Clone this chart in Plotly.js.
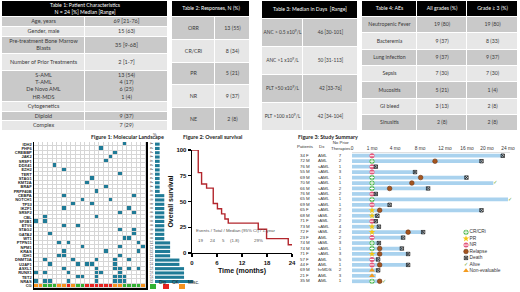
<!DOCTYPE html>
<html>
<head>
<meta charset="utf-8">
<script src="https://cdn.plot.ly/plotly-3.0.1.min.js"></script>
<style>
html,body{margin:0;padding:0;background:#ffffff;}
#chart{width:520px;height:292px;}
</style>
</head>
<body>
<div id="chart"></div>
<script>
// ================= DATA =================
// Table 1
const t1Header = ['Table 1: Patient Characteristics<br>N = 24 [%] Median [Range]'];
const t1Labels = ['Age, years', 'Gender, male', 'Pre-treatment Bone Marrow<br>Blasts', 'Number of Prior Treatments',
  'S-AML<br>T-AML<br>De Novo AML<br>HR-MDS', 'Cytogenetics', 'Diploid', 'Complex'];
const t1Values = ['69 [21-76]', '15 (63)', '35 [9-68]', '2 [1-7]', '13 (54)<br>4 (17)<br>6 (25)<br>1 (4)', '', '9 (37)', '7 (29)'];
// Table 2
const t2Header = ['Table 2: Responses, N (%)'];
const t2Labels = ['ORR', 'CR/CRi', 'PR', 'NR', 'NE'];
const t2Values = ['13 (55)', '8 (34)', '5 (21)', '9 (37)', '2 (8)'];
// Table 3
const t3Header = ['Table 3: Median in Days  [Range]'];
const t3Labels = ['ANC > 0.5 x10<sup>9</sup>/L', 'ANC >1 x10<sup>9</sup>/L', 'PLT >50 x10<sup>9</sup>/L', 'PLT >100 x10<sup>9</sup>/L'];
const t3Values = ['46 [30-101]', '50 [31-113]', '42 [33-76]', '42 [34-104]'];
// Table 4
const t4Header = ['Table 4: AEs', 'All grades (%)', 'Grade \u2265 3 (%)'];
const t4Events = ['Neutropenic Fever', 'Bacteremia', 'Lung infection', 'Sepsis', 'Mucositis', 'GI bleed', 'Sinusitis'];
const t4AllGrades = ['19 (80)', '9 (37)', '9 (37)', '7 (30)', '5 (21)', '3 (13)', '2 (8)'];
const t4Grade3 = ['19 (80)', '8 (33)', '9 (37)', '7 (30)', '1 (4)', '2 (8)', '2 (8)'];

// Figure 1: molecular landscape (patient columns 0..23)
const genes = ['IDH2', 'PHF6', 'CREBBP', 'JAK2', 'SRSF1', 'DDX41', 'EZH2', 'TERT', 'STAG1', 'KMT2A', 'BRAF', 'PRPF40B',
  'CEBPA', 'NOTCH1', 'TP53', 'IKZF1', 'SRSF2', 'CBL', 'SF3B1', 'ETV6', 'STAG2', 'GATA2', 'WT1',
  'PTPN11', 'NPM1', 'KRAS', 'IDH1', 'DNMT3A', 'U2AF1', 'ASXL1', 'RUNX1', 'TET2', 'NRAS'];
const mutatedPatients = [
  [19], [14], [17], [16], [15], [4], [6], [18], [12], [11], [15], [13],
  [6, 21], [10, 16], [8, 12], [6, 20], [18, 21], [2, 13], [0, 2], [6, 9], [18, 21], [3, 21], [19, 20],
  [5, 7, 22], [10, 18, 23], [6, 15, 22], [5, 6, 18],
  [2, 8, 13, 17, 20], [3, 9, 11, 12, 17], [6, 13, 17, 18, 20, 22], [0, 2, 7, 13, 14, 18],
  [9, 10, 13, 17, 18, 19], [0, 2, 3, 7, 13, 17, 18, 19]];
const genePct = [4, 4, 4, 4, 4, 4, 4, 4, 4, 4, 4, 4,
  8, 8, 8, 8, 8, 8, 8, 8, 8, 8, 8,
  13, 13, 13, 13, 21, 21, 25, 25, 25, 33];
const cytogenetics = ['Misc', 'Misc', 'Dip', 'Dip', 'Dip', 'Misc', 'Misc', 'CK', 'Misc', 'Dip', 'Dip', 'CK',
  'CK', 'CK', 'CK', 'CK', 'CK', 'Misc', 'Misc', 'Dip', 'Dip', 'Dip', 'Dip', 'Misc'];
const cgLegend = ['Dip', 'CK', 'Misc.'];

// Figure 2: overall survival (Kaplan-Meier)
const survMonths = [0, 1.5, 2.3, 3.5, 5.1, 6.1, 7.1, 7.9, 8.7, 15.9, 17.9, 23.1, 24];
const survPct = [100, 78, 67, 63, 48, 43, 38, 33, 29, 23, 14, 8, 8];
const survStatsHeader = 'Events / Total / Median (95% CI) / 1-year';
const survStats = ['19', '24', '5', '(1-8)', '29%'];

// Figure 3: study summary (swimmer plot)
const patients = ['34 F', '72 M', '76 M', '55 M', '69 M', '70 M', '66 M', '76 M', '65 M', '69 M', '65 F', '68 M',
  '71 F', '73 M', '72 F', '23 F', '74 M', '74 M', '71 F', '57 F', '44 F', '69 M', '21 F', '35 M'];
const diagnosis = ['AML', 'AML', 'sAML', 'sAML', 'sAML', 'sAML', 'sAML', 'sAML', 'sAML', 'sAML', 'sAML', 'tAML',
  'tAML', 'sAML', 'tAML', 'AML', 'tAML', 'sAML', 'sAML', 'AML', 'AML', 'hrMDS', 'AML', 'AML'];
const priorTherapies = [7, 2, 1, 3, 1, 1, 2, 2, 1, 1, 2, 2, 2, 4, 2, 2, 3, 1, 3, 5, 1, 2, 3, 1];
const bestResponse = ['NR', 'CR', 'NR', 'NR', 'CR', 'CR', 'CR', 'NR', 'CR', 'NR', 'PR', 'PR',
  'NR', 'PR', 'PR', 'NR', 'CR', 'CR', 'PR', 'NR', 'NR', 'NE', 'NE', 'CR'];
const responseMonth = 1;
const followUpMonths = [23.0, 18.9, 1.5, 7.2, 15.9, 21.2, 9.3, 1.5, 24.0, 3.3, 18.9, 1.7,
  1.5, 1.9, 8.5, 5.3, 1.9, 5.1, 6.1, 1.8, 6.1, 1.8, 1.5, 2.3];
const relapseMonths = [null, 10.4, null, null, 8.1, 6.7, 3.3, null, null, null, 2.0, null,
  null, null, 6.1, null, null, 2.0, 2.0, null, 2.0, null, null, 2.0];
const outcome = ['Death', 'Death', 'Death', 'Death', 'Death', 'Alive', 'Death', 'Death', 'Alive', 'Death', 'Death', 'Death',
  'Death', 'Death', 'Death', 'Death', 'Death', 'Death', 'Death', 'Death', 'Death', 'Death', '', 'Alive'];
const swimTickMonths = [0, 1, 4, 8, 12, 16, 20, 24];
const swimTickText = ['0', '1 mo', '4 mo', '8 mo', '12 mo', '16 mo', '20 mo', '24 mo'];
const swimLegend = ['CR/CRi', 'PR', 'NR', 'Relapse', 'Death', 'Alive', 'Non-evaluable'];

// ================= LAYOUT / STYLE =================
const W = 520, H = 292;
const xd = (a, b) => [a / W, b / W];
const yd = (top, bottom) => [1 - bottom / H, 1 - top / H];
const px = v => v / W, py = v => 1 - v / H;
const FONT = 'Lato, "Liberation Sans", sans-serif';
const ARIAL = '"Liberation Sans", Arial, sans-serif';
const TXT = '#3a3a3a';
const TEAL = '#1f7b97';
const CG_COLORS = {Dip: '#33b233', CK: '#e8231f', Misc: '#f7931e'};
const SHADE_SCALE = [[0, '#000000'], [0.25, '#000000'], [0.25, '#c9c9c9'], [0.75, '#c9c9c9'], [0.75, '#e7e7e7'], [1, '#e7e7e7']];
// non-linear display scale of the swimmer time axis (tick anchors, in axis units)
const swimTickUnits = [0, 20, 43, 68, 93, 115, 135, 156];
function swimScale(m) {
  for (let i = 1; i < swimTickMonths.length; i++) {
    if (m <= swimTickMonths[i]) {
      const t = (m - swimTickMonths[i - 1]) / (swimTickMonths[i] - swimTickMonths[i - 1]);
      return swimTickUnits[i - 1] + t * (swimTickUnits[i] - swimTickUnits[i - 1]);
    }
  }
  return swimTickUnits[swimTickUnits.length - 1];
}

const traces = [];
const shapes = [];
const annotations = [];
const layout = {
  width: W, height: H, margin: {l: 0, r: 0, t: 0, b: 0, pad: 0},
  paper_bgcolor: '#ffffff', plot_bgcolor: 'rgba(0,0,0,0)', showlegend: false,
  font: {family: FONT, size: 6, color: TXT}, shapes, annotations, hovermode: false
};

// ---------- tables ----------
function addTable(n, box, colW, headerW, headerH, headerTexts, columns, rowH, shades, fontSize) {
  const ax = n === 1 ? '' : String(n);
  const xa = 'x' + ax, ya = 'y' + ax;
  const Wt = box.x1 - box.x0, Ht = box.y1 - box.y0;
  layout['xaxis' + ax] = {domain: xd(box.x0, box.x1), range: [0, Wt], visible: false, fixedrange: true, anchor: ya};
  layout['yaxis' + ax] = {domain: yd(box.y0, box.y1), range: [Ht, 0], visible: false, fixedrange: true, anchor: xa};
  const hx = [0]; headerW.forEach(w => hx.push(hx[hx.length - 1] + w));
  traces.push({type: 'heatmap', xaxis: xa, yaxis: ya, x: hx, y: [0, headerH], z: [headerW.map(() => 0)],
    zmin: 0, zmax: 2, colorscale: SHADE_SCALE, showscale: false, xgap: 1, ygap: 1, hoverinfo: 'skip'});
  traces.push({type: 'scatter', mode: 'text', xaxis: xa, yaxis: ya,
    x: headerW.map((w, i) => (hx[i] + hx[i + 1]) / 2), y: headerW.map(() => headerH / 2),
    text: headerTexts, textposition: 'middle center', cliponaxis: false,
    textfont: {family: FONT, size: 5.2, color: '#ffffff'}, hoverinfo: 'skip'});
  const cx = [0]; colW.forEach(w => cx.push(cx[cx.length - 1] + w));
  const ry = [headerH]; rowH.forEach(h => ry.push(ry[ry.length - 1] + h));
  traces.push({type: 'heatmap', xaxis: xa, yaxis: ya, x: cx, y: ry,
    z: rowH.map((h, r) => colW.map(() => shades[r])),
    zmin: 0, zmax: 2, colorscale: SHADE_SCALE, showscale: false, xgap: 1, ygap: 1, hoverinfo: 'skip'});
  columns.forEach((col, c) => {
    const keep = col.map((v, r) => r).filter(r => col[r] !== '');
    traces.push({type: 'scatter', mode: 'text', xaxis: xa, yaxis: ya,
      x: keep.map(() => (cx[c] + cx[c + 1]) / 2), y: keep.map(r => (ry[r] + ry[r + 1]) / 2),
      text: keep.map(r => col[r]), textposition: 'middle center', cliponaxis: false,
      textfont: {family: FONT, size: fontSize, color: TXT}, hoverinfo: 'skip'});
  });
}
const alt = n => Array.from({length: n}, (v, i) => (i % 2 === 0 ? 1 : 2));
addTable(1, {x0: 2, x1: 168, y0: 1, y1: 131}, [83, 83], [166], 16, t1Header, [t1Labels, t1Values],
  [10, 10, 17, 17, 31, 10, 9, 10], alt(8), 5.5);
addTable(2, {x0: 172, x1: 250, y0: 1, y1: 131}, [43, 35], [78], 16, t2Header, [t2Labels, t2Values],
  [22.8, 22.8, 22.8, 22.8, 22.8], alt(5), 5.3);
addTable(3, {x0: 262, x1: 358, y0: 1, y1: 131}, [41, 55], [96], 18, t3Header, [t3Labels, t3Values],
  [28, 28, 28, 28], alt(4), 4.8);
addTable(4, {x0: 362, x1: 518, y0: 1, y1: 131}, [55, 50, 51], [55, 50, 51], 16, t4Header,
  [t4Events, t4AllGrades, t4Grade3], [16.3, 16.3, 16.3, 16.3, 16.3, 16.3, 16.2], alt(7), 5.2);

// ---------- Figure 1 ----------
const heatRows = genes.concat(['CG']);
const patientIdx = patients.map((p, i) => i);
const z = genes.map((g, r) => {
  const a = patients.map(() => 0);
  mutatedPatients[r].forEach(p => { a[p] = 1; });
  return a;
});
z.push(cytogenetics.map(c => ({Dip: 2, CK: 3, Misc: 4})[c]));
traces.push({type: 'heatmap', xaxis: 'x5', yaxis: 'y5', x: patientIdx, y: heatRows, z: z,
  zmin: 0, zmax: 4, showscale: false, xgap: 1, ygap: 1, hoverinfo: 'skip',
  colorscale: [[0, '#ffffff'], [0.125, '#ffffff'], [0.125, TEAL], [0.375, TEAL], [0.375, CG_COLORS.Dip], [0.625, CG_COLORS.Dip],
    [0.625, CG_COLORS.CK], [0.875, CG_COLORS.CK], [0.875, CG_COLORS.Misc], [1, CG_COLORS.Misc]]});
layout.xaxis5 = {domain: xd(34, 146), range: [-0.5, 23.5], anchor: 'y5', showticklabels: false, ticks: '',
  showgrid: false, zeroline: false, showline: true, linecolor: '#000', linewidth: 1.5, fixedrange: true};
layout.yaxis5 = {domain: yd(142, 288), type: 'category', categoryarray: heatRows, range: [heatRows.length - 0.5, -0.5],
  anchor: 'x5', tickmode: 'array', tickvals: heatRows, ticktext: heatRows, ticks: '', automargin: false,
  tickfont: {family: ARIAL, size: 4, weight: 'bold', color: '#222'}, showgrid: false, zeroline: false,
  showline: true, mirror: true, linecolor: '#000', linewidth: 1.5, fixedrange: true};
shapes.push({type: 'rect', xref: 'x5 domain', yref: 'y5 domain', x0: 0, x1: 1, y0: 0, y1: 1,
  fillcolor: '#d6d6d6', line: {width: 0}, layer: 'below'});
traces.push({type: 'bar', orientation: 'h', xaxis: 'x6', yaxis: 'y6', x: genePct, y: genes,
  marker: {color: TEAL}, width: 0.72, hoverinfo: 'skip'});
layout.xaxis6 = {domain: xd(155, 198), range: [0, 37], anchor: 'y6', visible: false, fixedrange: true};
layout.yaxis6 = {domain: yd(142, 288), type: 'category', categoryarray: heatRows, range: [heatRows.length - 0.5, -0.5],
  anchor: 'x6', tickmode: 'array', tickvals: genes, ticktext: genePct.map(String), tickangle: 90, ticks: '',
  automargin: false, tickfont: {family: ARIAL, size: 3.6, color: '#333'}, showgrid: false, zeroline: false,
  showline: false, fixedrange: true};
annotations.push({xref: 'paper', yref: 'paper', x: px(150.5), y: py(134.5), yanchor: 'middle', text: '%', showarrow: false,
  font: {family: ARIAL, size: 4, color: '#222'}});
annotations.push({xref: 'paper', yref: 'paper', x: px(89), y: py(137.5), text: 'Figure 1: Molecular Landscape',
  showarrow: false, font: {family: FONT, size: 5.4, weight: 'bold', color: '#222'}});
// cytogenetics legend
const cgKeys = ['Dip', 'CK', 'Misc'];
const cgBoxX = [150, 163, 179];
cgKeys.forEach((k, i) => {
  shapes.push({type: 'rect', xref: 'paper', yref: 'paper', x0: px(cgBoxX[i]), x1: px(cgBoxX[i] + 6),
    y0: py(289), y1: py(284), fillcolor: CG_COLORS[k], line: {width: 0}});
  annotations.push({xref: 'paper', yref: 'paper', x: px(cgBoxX[i] + 6.5), y: py(286.5), xanchor: 'left',
    text: cgLegend[i], showarrow: false, font: {family: ARIAL, size: 4.8, color: '#222'}});
});

// ---------- Figure 2 ----------
traces.push({type: 'scatter', mode: 'lines', xaxis: 'x7', yaxis: 'y7', x: survMonths, y: survPct,
  line: {shape: 'hv', color: '#b3262d', width: 1.4}, cliponaxis: false, hoverinfo: 'skip'});
const axStyle = {showline: true, linecolor: '#000', linewidth: 1.4, ticks: 'outside', ticklen: 3, tickwidth: 1.4,
  tickcolor: '#000', showgrid: false, zeroline: false, fixedrange: true, automargin: false,
  tickfont: {family: ARIAL, size: 6, weight: 'bold', color: '#111'}};
layout.xaxis7 = Object.assign({}, axStyle, {domain: xd(192, 292), range: [0, 24], tickvals: [0, 6, 12, 18, 24], anchor: 'y7',
  title: {text: 'Time (months)', font: {family: ARIAL, size: 7, weight: 'bold', color: '#111'}, standoff: 3}});
layout.yaxis7 = Object.assign({}, axStyle, {domain: yd(150, 253), range: [0, 100], tickvals: [0, 25, 50, 75, 100], anchor: 'x7',
  title: {text: 'Overall survival', font: {family: ARIAL, size: 7, weight: 'bold', color: '#111'}, standoff: 2}});
annotations.push({xref: 'paper', yref: 'paper', x: px(212), y: py(137.5), text: 'Figure 2: Overall survival',
  showarrow: false, font: {family: FONT, size: 5.4, weight: 'bold', color: '#222'}});
annotations.push({xref: 'paper', yref: 'paper', x: px(194), y: py(235), xanchor: 'left', text: survStatsHeader,
  showarrow: false, font: {family: ARIAL, size: 4.4, color: '#555'}});
const statX = [200, 212, 223, 235, 258];
survStats.forEach((s, i) => annotations.push({xref: 'paper', yref: 'paper', x: px(statX[i]), y: py(245), text: s,
  showarrow: false, font: {family: ARIAL, size: 4.4, color: '#555'}}));

// ---------- Figure 3 ----------
const rowIdx = patients.map((p, i) => i);
layout.xaxis8 = {domain: xd(352, 510), range: [0, 158], anchor: 'y8', side: 'top', tickmode: 'array',
  tickvals: swimTickMonths.map(swimScale), ticktext: swimTickText, ticks: '', showgrid: false, zeroline: false,
  showline: true, linecolor: '#cccccc', linewidth: 0.6, automargin: false, fixedrange: true,
  tickfont: {family: ARIAL, size: 4.8, color: '#333'}};
layout.yaxis8 = {domain: yd(153, 284), range: [patients.length - 0.5, -0.5], anchor: 'x8', visible: false, fixedrange: true};
layout.xaxis9 = {domain: xd(298, 352), range: [0, 54], anchor: 'y8', visible: false, fixedrange: true};
traces.push({type: 'bar', orientation: 'h', xaxis: 'x8', yaxis: 'y8', x: followUpMonths.map(swimScale), y: rowIdx,
  base: 0, width: 0.68, marker: {color: '#a9d2ee'}, hoverinfo: 'skip'});
const RESP = {
  CR: {symbol: 'circle', color: '#49b549', overlay: 'cross-thin'},
  PR: {symbol: 'star', color: '#f3c512'},
  NR: {symbol: 'circle', color: '#e4587d', overlay: 'line-ew'},
  NE: {symbol: 'triangle-up', color: '#f39a1e'}
};
function respMarkers(xa, ya, xs, ys, key, size) {
  const st = RESP[key];
  traces.push({type: 'scatter', mode: 'markers', xaxis: xa, yaxis: ya, x: xs, y: ys, cliponaxis: false, hoverinfo: 'skip',
    marker: {symbol: st.symbol, color: st.color, size: size, line: {width: 0}}});
  if (st.overlay) {
    traces.push({type: 'scatter', mode: 'markers', xaxis: xa, yaxis: ya, x: xs, y: ys, cliponaxis: false, hoverinfo: 'skip',
      marker: {symbol: st.overlay, size: size * 0.6, color: '#fff', line: {color: '#ffffff', width: 1}}});
  }
}
Object.keys(RESP).forEach(k => {
  const ys = rowIdx.filter(i => bestResponse[i] === k);
  respMarkers('x8', 'y8', ys.map(() => swimScale(responseMonth)), ys, k, 5);
});
const relRows = rowIdx.filter(i => relapseMonths[i] !== null);
const REL_STYLE = {symbol: 'circle', color: '#a5551f', size: 4.6, line: {color: '#6e3410', width: 0.6}};
traces.push({type: 'scatter', mode: 'markers', xaxis: 'x8', yaxis: 'y8', x: relRows.map(i => swimScale(relapseMonths[i])),
  y: relRows, marker: REL_STYLE, cliponaxis: false, hoverinfo: 'skip'});
const deadRows = rowIdx.filter(i => outcome[i] === 'Death');
const DEATH_STYLE = {symbol: 'square-x-open', color: '#222', size: 3.4, line: {width: 0.8, color: '#222'}};
traces.push({type: 'scatter', mode: 'markers', xaxis: 'x8', yaxis: 'y8', x: deadRows.map(i => swimScale(followUpMonths[i])),
  y: deadRows, marker: DEATH_STYLE, cliponaxis: false, hoverinfo: 'skip'});
const aliveRows = rowIdx.filter(i => outcome[i] === 'Alive');
traces.push({type: 'scatter', mode: 'text', xaxis: 'x8', yaxis: 'y8', x: aliveRows.map(i => swimScale(followUpMonths[i])),
  y: aliveRows, text: aliveRows.map(() => '\u2713'), textposition: 'middle right', cliponaxis: false, hoverinfo: 'skip',
  textfont: {family: '"DejaVu Sans", sans-serif', size: 5, color: '#6aa32e'}});
// patient text columns
const colFont = {family: ARIAL, size: 4.4, color: '#333'};
traces.push({type: 'scatter', mode: 'text', xaxis: 'x9', yaxis: 'y8', x: rowIdx.map(() => 2), y: rowIdx, text: patients,
  textposition: 'middle right', textfont: colFont, cliponaxis: false, hoverinfo: 'skip'});
traces.push({type: 'scatter', mode: 'text', xaxis: 'x9', yaxis: 'y8', x: rowIdx.map(() => 20), y: rowIdx, text: diagnosis,
  textposition: 'middle right', textfont: colFont, cliponaxis: false, hoverinfo: 'skip'});
traces.push({type: 'scatter', mode: 'text', xaxis: 'x9', yaxis: 'y8', x: rowIdx.map(() => 42), y: rowIdx,
  text: priorTherapies.map(String), textposition: 'middle center', textfont: colFont, cliponaxis: false, hoverinfo: 'skip'});
[['Patients', 305, 146.5], ['Dx', 322, 146.5], ['No Prior<br>Therapies', 341, 145]].forEach(h => annotations.push({
  xref: 'paper', yref: 'paper', x: px(h[1]), y: py(h[2]), text: h[0], showarrow: false,
  font: {family: ARIAL, size: 4.4, color: '#333'}}));
annotations.push({xref: 'paper', yref: 'paper', x: px(328), y: py(137.5), text: 'Figure 3: Study Summary',
  showarrow: false, font: {family: FONT, size: 5.4, weight: 'bold', color: '#222'}});
// swimmer legend
layout.xaxis10 = {domain: xd(463, 518), range: [0, 55], anchor: 'y10', visible: false, fixedrange: true};
layout.yaxis10 = {domain: yd(229, 274), range: [swimLegend.length - 0.5, -0.5], anchor: 'x10', visible: false, fixedrange: true};
respMarkers('x10', 'y10', [3], [0], 'CR', 5);
respMarkers('x10', 'y10', [3], [1], 'PR', 5);
respMarkers('x10', 'y10', [3], [2], 'NR', 5);
traces.push({type: 'scatter', mode: 'markers', xaxis: 'x10', yaxis: 'y10', x: [3], y: [3], marker: REL_STYLE, cliponaxis: false, hoverinfo: 'skip'});
traces.push({type: 'scatter', mode: 'markers', xaxis: 'x10', yaxis: 'y10', x: [3], y: [4], marker: DEATH_STYLE, cliponaxis: false, hoverinfo: 'skip'});
traces.push({type: 'scatter', mode: 'text', xaxis: 'x10', yaxis: 'y10', x: [3], y: [5], text: ['\u2713'], textposition: 'middle center',
  textfont: {family: '"DejaVu Sans", sans-serif', size: 5, color: '#6aa32e'}, cliponaxis: false, hoverinfo: 'skip'});
respMarkers('x10', 'y10', [3], [6], 'NE', 5);
traces.push({type: 'scatter', mode: 'text', xaxis: 'x10', yaxis: 'y10', x: swimLegend.map(() => 6.5),
  y: swimLegend.map((s, i) => i), text: swimLegend, textposition: 'middle right', cliponaxis: false, hoverinfo: 'skip',
  textfont: {family: ARIAL, size: 4.8, color: '#333'}});

Plotly.newPlot('chart', traces, layout, {displayModeBar: false, staticPlot: true});
</script>
</body>
</html>
